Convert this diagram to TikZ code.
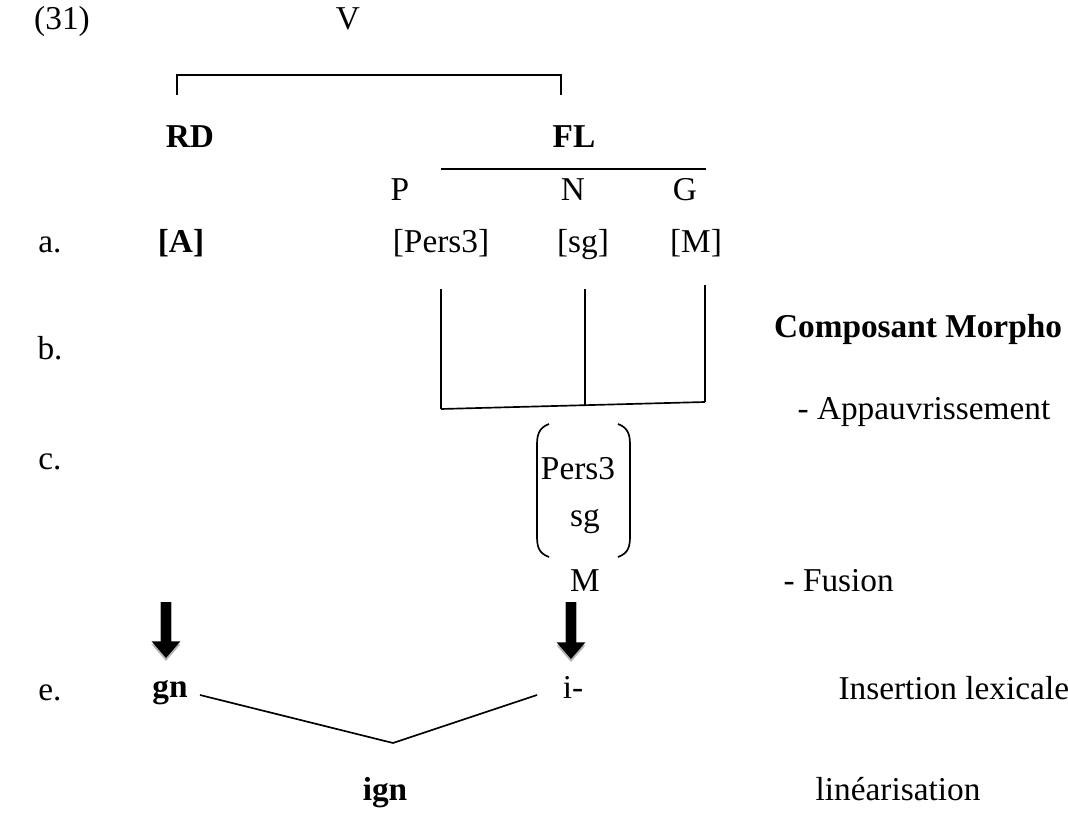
\documentclass[tikz,border=0pt]{standalone}
\usepackage{fontspec}
\setmainfont{Liberation Serif}
\usetikzlibrary{arrows.meta}
\tikzset{
  lab/.style={inner sep=0pt, anchor=base, font=\fontsize{12}{14}\selectfont},
  blab/.style={lab, font=\fontsize{12}{14}\selectfont\bfseries},
  branch/.style={line width=0.6pt},
  bigarrow/.style={line width=4.3pt, -{Triangle[length=6pt,width=10pt]}},
}
\begin{document}
\begin{tikzpicture}[x=0.36pt, y=-0.36pt]
        \useasboundingbox (0,0) rectangle (1068,816);
        % top: V over RD and FL
        \node[lab] (num) at (62,30) {(31)};
        \node[lab] (v) at (348,30) {V};
        \node[blab] (rd) at (190,148) {RD};
        \node[blab] (fl) at (574,148) {FL};
        \coordinate (brl) at (177,95);
        \coordinate (brr) at (561,95);
        \draw[branch] (brl) -- (177,75) -- (561,75) -- (brr);

        % features of FL
        \coordinate (fla) at (441,169);
        \coordinate (flb) at (706,169);
        \draw[branch] (fla) -- (flb);
        \node[lab] (p) at (400,201) {P};
        \node[lab] (n) at (573,201) {N};
        \node[lab] (g) at (685,201) {G};

        % a.
        \node[lab] (la) at (50,253) {a.};
        \node[blab] (A) at (181,253) {[A]};
        \node[lab] (pers) at (441,253) {[Pers3]};
        \node[lab] (sg) at (583,253) {[sg]};
        \node[lab] (m) at (696,253) {[M]};

        % b. impoverishment
        \node[lab] (lb) at (50,359) {b.};
        \node[blab] (morpho) at (918,338) {Composant Morpho};
        \node[lab, anchor=base west] (appauv) at (797,419) {- Appauvrissement};
        \coordinate (b1t) at (441,289);
        \coordinate (b1b) at (441,409);
        \coordinate (b2t) at (585,289);
        \coordinate (b2b) at (585,405.5);
        \coordinate (b3t) at (705,285);
        \coordinate (b3b) at (705,402);
        \draw[branch] (b1t) -- (b1b);
        \draw[branch] (b2t) -- (b2b);
        \draw[branch] (b3t) -- (b3b);
        \draw[branch] (b1b) -- (b3b);

        % c. fusion
        \node[lab] (lc) at (50,469) {c.};
        \node[lab] (fpers) at (578,479) {Pers3};
        \node[lab] (fsg) at (585,526) {sg};
        \node[lab] (fm) at (585,591) {M};
        \node[lab, anchor=base west] (fusion) at (783,591) {- Fusion};
        \draw[branch] (549,424) .. controls (538,428) and (537,436) .. (537,446)
          -- (537,535) .. controls (537,546) and (538,553) .. (549,557);
        \draw[branch] (618,424) .. controls (629,428) and (630,436) .. (630,446)
          -- (630,535) .. controls (630,546) and (629,553) .. (618,557);

        % e. lexical insertion
        \node[lab] (le) at (50,700) {e.};
        \node[blab] (gn) at (170,697) {gn};
        \node[lab] (i) at (573,698) {i-};
        \node[lab, anchor=base west] (insert) at (838,699) {Insertion lexicale};
        \coordinate (arl) at (166,602);
        \coordinate (arr) at (571,602);
        \draw[bigarrow, gray!60] (arl) -- (166,661);
        \draw[bigarrow, gray!60] (arr) -- (571,662);
        \draw[bigarrow, line width=3.6pt] (arl) -- (166,658);
        \draw[bigarrow, line width=3.6pt] (arr) -- (571,659);

        % linearisation
        \coordinate (vl) at (200,695);
        \coordinate (vm) at (393,743);
        \coordinate (vr) at (537,695);
        \draw[branch] (vl) -- (vm) -- (vr);
        \node[blab] (ign) at (385,800) {ign};
        \node[lab] (lin) at (898,800) {linéarisation};
\end{tikzpicture}
\end{document}
